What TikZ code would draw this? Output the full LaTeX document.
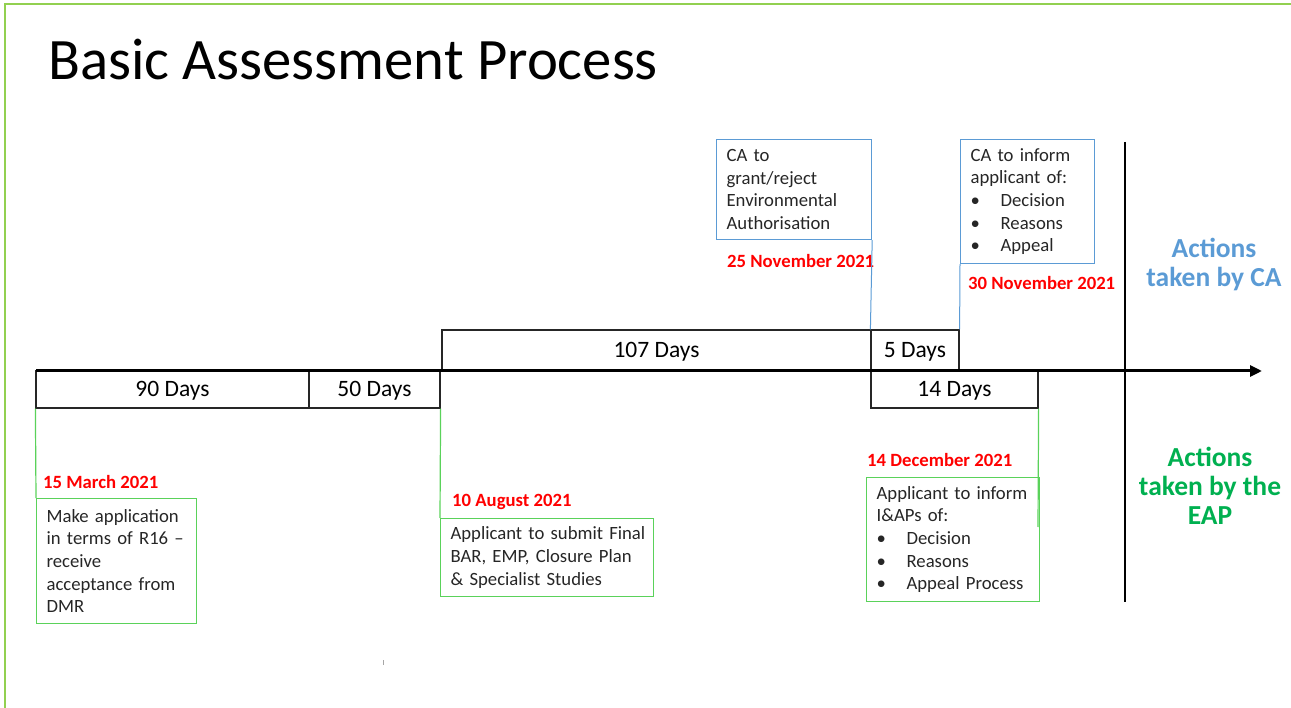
\documentclass[tikz,border=0pt]{standalone}
\usepackage{fontspec}
\setmainfont{Carlito}
\usetikzlibrary{arrows.meta}
\definecolor{framegreen}{RGB}{146,208,80}
\definecolor{cablue}{RGB}{91,155,213}
\definecolor{boxgreen}{RGB}{90,210,90}
\definecolor{eapgreen}{RGB}{0,176,80}
\definecolor{datered}{RGB}{255,0,0}
\definecolor{ink}{RGB}{38,38,38}
\begin{document}
\begin{tikzpicture}[x=1pt,y=-1pt,
  daybox/.style={draw=black!85, line width=1.2pt, inner sep=0pt, text=black,
    font=\fontsize{23.5}{28}\selectfont},
  daytext/.style={inner sep=0pt, text=black, font=\fontsize{23.5}{28}\selectfont},
  infobox/.style={draw, line width=1.2pt, anchor=north west, align=left,
    inner xsep=10pt, inner ysep=0pt, text=ink,
    font=\fontsize{18.7}{22.7}\selectfont,
    execute at begin node={\hyphenpenalty=10000\exhyphenpenalty=10000}},
  cabox/.style={infobox, draw=cablue},
  eapbox/.style={infobox, draw=boxgreen},
  datelabel/.style={anchor=west, inner sep=0pt, text=datered,
    font=\fontsize{18.7}{22}\selectfont\bfseries},
  sidelabel/.style={align=center, inner sep=0pt,
    font=\fontsize{27.5}{29}\selectfont\bfseries},
  calink/.style={draw=cablue, line width=1pt},
  eaplink/.style={draw=boxgreen, line width=1.2pt}
]
\newcommand{\bitem}[1]{\makebox[30pt][l]{\textbullet}#1}
\useasboundingbox (0,0) rectangle (1291,708);

% slide frame
\coordinate (fr0) at (5,708);
\coordinate (fr1) at (5,4);
\coordinate (fr2) at (1291,4);
\draw[framegreen, line width=2pt] (fr0) -- (fr1) -- (fr2);

% title
\node[anchor=base west, inner sep=0pt, text=black,
  font=\fontsize{58.7}{64}\selectfont] (title) at (48,80) {Basic Assessment Process};

% duration boxes, labels set slightly low as on the slide
\node[daybox, minimum width=273, minimum height=37] (d90) at (172.5,389.5) {};
\node[daybox, minimum width=131, minimum height=37] (d50) at (374.5,389.5) {};
\node[daybox, minimum width=429, minimum height=41] (d107) at (656.5,350.5) {};
\node[daybox, minimum width=88, minimum height=41] (d5) at (915,350.5) {};
\node[daybox, minimum width=167, minimum height=37] (d14) at (954.5,389.5) {};
\node[daytext] (t90) at ([yshift=-1.5pt]d90.center) {90 Days};
\node[daytext] (t50) at ([yshift=-1.5pt]d50.center) {50 Days};
\node[daytext] (t107) at ([yshift=-1pt]d107.center) {107 Days};
\node[daytext] (t5) at ([yshift=-1pt]d5.center) {5 Days};
\node[daytext] (t14) at ([yshift=-1.5pt]d14.center) {14 Days};

% timeline and divider
\coordinate (tl0) at (36,371);
\coordinate (tl1) at (1262,371);
\draw[line width=3pt, -{Triangle[length=12pt,width=11pt]}] (tl0) -- (tl1);
\coordinate (dv0) at (1125,142);
\coordinate (dv1) at (1125,602);
\draw[line width=2pt] (dv0) -- (dv1);

% actions taken by the CA
\node[cabox, text width=135, minimum width=155, minimum height=100] (ca1) at (716,139)
  {CA to\\grant/reject\\Environmental\\Authorisation};
\node[cabox, text width=114, minimum width=134, minimum height=124] (ca2) at (960,139)
  {CA to inform\\applicant of:\\\bitem{Decision}\\\bitem{Reasons}\\\bitem{Appeal}};
\node[datelabel] (dt25) at (727,261) {25 November 2021};
\node[datelabel] (dt30) at (968,283) {30 November 2021};
\draw[calink] (ca1.south east) -- (d5.north west);
\draw[calink] (ca2.south west) -- (d5.north east);

% actions taken by the EAP
\node[eapbox, text width=140, minimum width=160, minimum height=125] (mk) at (36,498)
  {Make application\\in terms of R16 --\\receive\\acceptance from\\DMR};
\node[eapbox, text width=193, minimum width=213, minimum height=78] (sub) at (440,518)
  {\mbox{Applicant to submit Final}\\\mbox{BAR, EMP, Closure Plan}\\\mbox{\& Specialist Studies}};
\node[eapbox, text width=153, minimum width=173, minimum height=124] (inf) at (866,477)
  {Applicant to inform\\I\&APs of:\\\bitem{Decision}\\\bitem{Reasons}\\\bitem{Appeal Process}};
\node[datelabel] (dt15) at (43,482) {15 March 2021};
\node[datelabel] (dt10) at (452,502) {10 August 2021};
\node[datelabel] (dt14) at (867,460) {14 December 2021};
\coordinate (infx) at (1038,527);
\draw[eaplink] (d90.south west) -- (mk.north west);
\draw[eaplink] (d50.south east) -- (sub.north west);
\draw[eaplink] (d14.south east) -- (infx);

% side captions
\node[sidelabel, text=cablue] (lca) at (1214,264.5) {Actions\\taken by CA};
\node[sidelabel, text=eapgreen] (leap) at (1210,486) {Actions\\taken by the\\EAP};

% stray tick
\coordinate (tk0) at (383,660);
\coordinate (tk1) at (383,665);
\draw[gray!70, line width=1pt] (tk0) -- (tk1);
\end{tikzpicture}
\end{document}
